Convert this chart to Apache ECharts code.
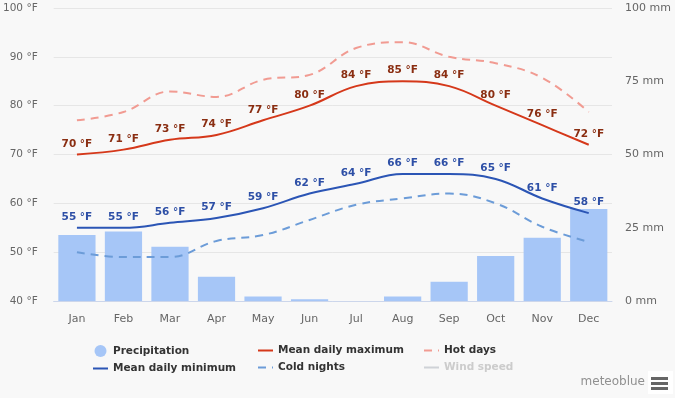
<!DOCTYPE html>
<html>
<head>
<meta charset="utf-8">
<script src="https://cdn.jsdelivr.net/npm/echarts@6/dist/echarts.min.js"></script>
<style>
  html, body { margin: 0; padding: 0; background: #f8f8f8; }
  #chart { width: 675px; height: 398px; }
</style>
</head>
<body>
<div id="chart"></div>
<script>
var months = ['Jan', 'Feb', 'Mar', 'Apr', 'May', 'Jun', 'Jul', 'Aug', 'Sep', 'Oct', 'Nov', 'Dec'];
var precipitation = [22.5, 23.7, 18.5, 8.3, 1.5, 0.6, 0, 1.5, 6.6, 15.4, 21.6, 31.4];
var meanMax = [70, 71, 73, 74, 77, 80, 84, 85, 84, 80, 76, 72];
var meanMin = [55, 55, 56, 57, 59, 62, 64, 66, 66, 65, 61, 58];
var hotDays = [77, 78.7, 82.9, 81.8, 85.3, 86.3, 91.8, 93, 90, 88.7, 85.7, 78.7];
var coldNights = [50, 49, 49, 52.3, 53.5, 56.6, 59.7, 61, 62, 60, 55.2, 52.1];
var windSpeed = [];

var font = 'DejaVu Sans';
var legendText = { fontFamily: font, fontSize: 10.5, fontWeight: 'bold', color: '#333' };

function legendBox(left, items, extra) {
  var l = {
    left: left, top: 345, orient: 'vertical', padding: 0,
    itemWidth: 15, itemHeight: 12, itemGap: 6,
    itemStyle: { opacity: 0 },
    textStyle: legendText,
    data: items
  };
  for (var k in extra) l[k] = extra[k];
  return l;
}

var option = {
  backgroundColor: '#f8f8f8',
  animation: false,
  textStyle: { fontFamily: font },
  grid: { left: 52, right: 63, top: 8, bottom: 97 },
  legend: [
    legendBox(92, [{ name: 'Precipitation', icon: 'circle', itemStyle: { opacity: 1 } }, 'Mean daily minimum']),
    legendBox(257, ['Mean daily maximum', 'Cold nights']),
    legendBox(423, ['Hot days', 'Wind speed'], { inactiveColor: '#cccccc', selected: { 'Wind speed': false } })
  ],
  xAxis: {
    type: 'category',
    data: months,
    boundaryGap: true,
    axisLine: { lineStyle: { color: '#ccd6eb' } },
    axisTick: { show: false },
    axisLabel: { color: '#666', fontSize: 11, margin: 13 }
  },
  yAxis: [
    {
      type: 'value', min: 40, max: 100, interval: 10,
      axisLabel: { formatter: '{value} °F', color: '#666', fontSize: 10.5, margin: 16 },
      splitLine: { lineStyle: { color: '#e6e6e6' } }
    },
    {
      type: 'value', min: 0, max: 100, interval: 25,
      axisLabel: { formatter: '{value} mm', color: '#666', fontSize: 11, margin: 13 },
      splitLine: { show: false }
    }
  ],
  series: [
    {
      name: 'Precipitation', type: 'bar', yAxisIndex: 1, data: precipitation,
      barCategoryGap: '20%', itemStyle: { color: '#a6c6f7' }, z: 1
    },
    {
      name: 'Mean daily maximum', type: 'line', data: meanMax, smooth: 0.4,
      symbol: 'circle', symbolSize: 0, lineStyle: { color: '#d5381a', width: 2 }, itemStyle: { color: '#d5381a' },
      label: { show: true, position: 'top', distance: 5, formatter: '{c} °F',
        color: '#8a2e12', fontWeight: 'bold', fontSize: 10.5 }, z: 5
    },
    {
      name: 'Mean daily minimum', type: 'line', data: meanMin, smooth: 0.4,
      symbol: 'circle', symbolSize: 0, lineStyle: { color: '#2b55b5', width: 2 }, itemStyle: { color: '#2b55b5' },
      label: { show: true, position: 'top', distance: 5, formatter: '{c} °F',
        color: '#2d4fa6', fontWeight: 'bold', fontSize: 10.5 }, z: 5
    },
    {
      name: 'Hot days', type: 'line', data: hotDays, smooth: 0.4,
      symbol: 'none', lineStyle: { color: '#f19b92', width: 2, type: [8, 6] }, itemStyle: { color: '#f19b92' }, z: 3
    },
    {
      name: 'Cold nights', type: 'line', data: coldNights, smooth: 0.4,
      symbol: 'none', lineStyle: { color: '#6c9cd8', width: 2, type: [8, 6] }, itemStyle: { color: '#6c9cd8' }, z: 3
    },
    {
      name: 'Wind speed', type: 'line', data: windSpeed,
      symbol: 'none', lineStyle: { color: '#aaaaaa', width: 2 }, itemStyle: { color: '#aaaaaa' }
    }
  ],
  graphic: [
    { type: 'text', right: 30, top: 376, style: { text: 'meteoblue', fill: '#909090', font: '12px ' + font } },
    { type: 'rect', shape: { x: 648, y: 371, width: 25, height: 23 }, style: { fill: '#ffffff' } },
    { type: 'rect', shape: { x: 651, y: 377, width: 17, height: 3 }, style: { fill: '#666' } },
    { type: 'rect', shape: { x: 651, y: 382, width: 17, height: 3 }, style: { fill: '#666' } },
    { type: 'rect', shape: { x: 651, y: 387, width: 17, height: 3 }, style: { fill: '#666' } }
  ]
};

var myChart = echarts.init(document.getElementById('chart'));
myChart.setOption(option);
</script>
</body>
</html>
